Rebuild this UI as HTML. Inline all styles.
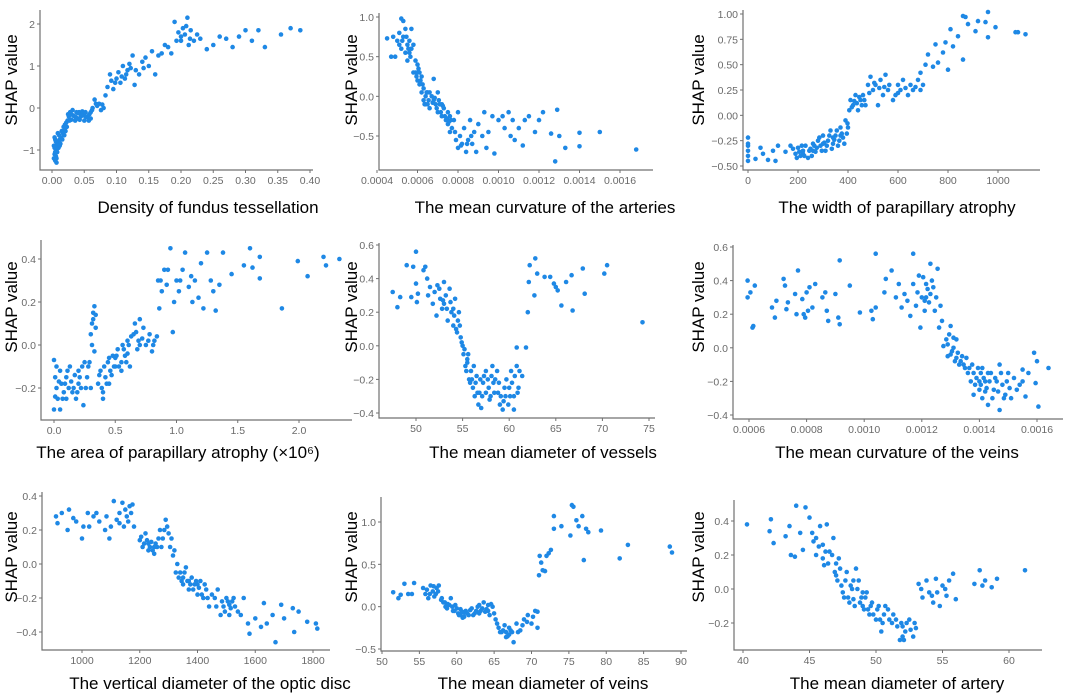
<!DOCTYPE html>
<html><head><meta charset="utf-8"><style>
body{margin:0;background:#fff;}
svg{display:block;}
.tk{font-family:"Liberation Sans",sans-serif;font-size:10.5px;fill:#6a6a6a;}
.tt{font-family:"Liberation Sans",sans-serif;font-size:17px;fill:#000;}
</style></head><body>
<svg id="fig" width="1065" height="694" viewBox="0 0 1065 694" xmlns="http://www.w3.org/2000/svg"></svg>
<script>
// ---- data (x, SHAP value) per panel ----
const p1Points=[[0.003,-0.9],[0.004,-1.1],[0.005,-1.25],[0.005,-0.75],[0.006,-1.0],[0.007,-1.3],[0.008,-0.85],[0.004,-0.7],[0.006,-1.15],[0.009,-0.6],[0.01,-0.8],[0.012,-0.75],[0.014,-0.7],[0.015,-0.55],[0.017,-0.6],[0.018,-0.45],[0.02,-0.5],[0.022,-0.35],[0.024,-0.3],[0.026,-0.2],[0.028,-0.1],[0.03,-0.15],[0.032,-0.05],[0.035,-0.2],[0.038,-0.1],[0.04,-0.25],[0.042,-0.1],[0.045,-0.2],[0.048,-0.15],[0.05,-0.3],[0.052,-0.1],[0.055,-0.2],[0.058,-0.15],[0.06,-0.1],[0.063,0.0],[0.066,0.2],[0.07,0.05],[0.073,0.1],[0.076,-0.05],[0.08,0.0],[0.083,0.3],[0.086,0.5],[0.09,0.8],[0.092,0.65],[0.095,0.45],[0.1,0.7],[0.103,0.85],[0.106,0.6],[0.11,1.0],[0.113,0.7],[0.117,0.9],[0.12,1.05],[0.125,1.25],[0.128,0.55],[0.13,0.9],[0.135,0.8],[0.14,1.1],[0.145,1.2],[0.15,1.0],[0.155,1.35],[0.16,0.8],[0.165,1.25],[0.17,1.3],[0.175,1.5],[0.18,1.45],[0.185,1.3],[0.19,2.05],[0.193,1.6],[0.196,1.8],[0.2,1.7],[0.203,1.9],[0.206,1.75],[0.21,2.15],[0.212,1.5],[0.215,1.85],[0.22,1.6],[0.225,1.75],[0.23,1.65],[0.24,1.4],[0.25,1.5],[0.26,1.7],[0.27,1.65],[0.28,1.45],[0.29,1.7],[0.3,1.85],[0.31,1.6],[0.32,1.85],[0.33,1.45],[0.355,1.75],[0.37,1.9],[0.385,1.85],[0.007,-1.0],[0.01,-0.95],[0.013,-0.85],[0.02,-0.4],[0.025,-0.15],[0.036,-0.3],[0.044,-0.15],[0.05,-0.18],[0.06,-0.25]];
const p1Dense=[[0.003,-1.2],[0.004,-0.95],[0.005,-1.05],[0.006,-0.8],[0.007,-1.2],[0.008,-1.05],[0.009,-0.9],[0.011,-0.65],[0.012,-0.9],[0.016,-0.75],[0.019,-0.65],[0.021,-0.55],[0.023,-0.45],[0.027,-0.3],[0.03,-0.28],[0.033,-0.18],[0.037,-0.22],[0.04,-0.12],[0.043,-0.28],[0.047,-0.08],[0.053,-0.22],[0.057,-0.3],[0.062,-0.05],[0.068,0.1],[0.078,0.08],[0.098,0.6],[0.108,0.75],[0.115,0.8],[0.122,0.95],[0.142,0.95],[0.2,1.6],[0.208,1.95],[0.214,1.65]];
const p2Points=[[4.5,0.73],[4.7,0.5],[4.8,0.75],[4.9,0.5],[5.0,0.7],[5.1,0.8],[5.2,0.98],[5.3,0.95],[5.2,0.6],[5.3,0.75],[5.4,0.55],[5.4,0.85],[5.5,0.65],[5.5,0.45],[5.6,0.7],[5.6,0.55],[5.7,0.85],[5.7,0.6],[5.8,0.65],[5.9,0.45],[5.9,0.3],[6.0,0.4],[6.0,0.2],[6.1,0.3],[6.1,0.15],[6.2,0.25],[6.2,0.05],[6.3,0.1],[6.3,-0.05],[6.4,0.0],[6.5,-0.1],[6.5,0.05],[6.6,-0.15],[6.7,0.0],[6.8,-0.05],[6.8,0.22],[6.9,-0.1],[7.0,-0.2],[7.0,0.05],[7.1,-0.1],[7.2,-0.25],[7.3,-0.15],[7.4,-0.3],[7.5,-0.35],[7.6,-0.25],[7.6,-0.45],[7.7,-0.4],[7.8,-0.3],[7.9,-0.55],[8.0,-0.65],[8.0,-0.2],[8.1,-0.5],[8.2,-0.6],[8.3,-0.4],[8.4,-0.7],[8.5,-0.55],[8.6,-0.3],[8.7,-0.6],[8.8,-0.45],[8.9,-0.7],[9.0,-0.35],[9.2,-0.5],[9.3,-0.2],[9.4,-0.65],[9.5,-0.45],[9.7,-0.25],[9.8,-0.72],[10.0,-0.3],[10.2,-0.25],[10.3,-0.4],[10.5,-0.2],[10.6,-0.5],[10.7,-0.3],[10.8,-0.55],[11.0,-0.4],[11.2,-0.62],[11.3,-0.3],[11.5,-0.25],[11.8,-0.45],[12.0,-0.3],[12.2,-0.2],[12.6,-0.47],[12.8,-0.82],[12.9,-0.17],[13.0,-0.5],[13.3,-0.65],[14.0,-0.46],[14.0,-0.63],[15.0,-0.45],[16.8,-0.67],[5.8,0.3],[6.0,0.3],[6.4,-0.1],[6.6,0.05],[7.2,-0.1],[7.5,-0.2]];
const p2Dense=[[5.1,0.65],[5.25,0.7],[5.45,0.75],[5.55,0.6],[5.65,0.5],[5.95,0.25],[6.05,0.35],[6.15,0.2],[6.25,0.15],[6.35,-0.1],[6.45,0.05],[6.55,-0.05],[6.75,-0.08],[6.85,-0.02],[6.95,-0.15],[7.05,-0.05],[7.15,-0.2],[7.25,-0.12],[7.35,-0.25],[7.45,-0.28],[7.55,-0.32],[7.65,-0.3],[7.85,-0.45],[8.15,-0.62],[8.45,-0.6],[8.65,-0.5]];
const p3Points=[[0,-0.22],[0,-0.3],[0,-0.35],[0,-0.4],[0,-0.45],[0,-0.28],[30,-0.43],[50,-0.32],[60,-0.38],[80,-0.44],[100,-0.35],[110,-0.45],[120,-0.3],[150,-0.36],[170,-0.3],[190,-0.38],[200,-0.32],[210,-0.4],[220,-0.35],[230,-0.3],[240,-0.42],[250,-0.33],[260,-0.28],[270,-0.36],[280,-0.25],[290,-0.3],[300,-0.2],[310,-0.35],[320,-0.25],[330,-0.15],[340,-0.28],[350,-0.2],[360,-0.3],[370,-0.12],[380,-0.22],[390,-0.05],[395,-0.18],[400,-0.12],[405,0.05],[410,0.15],[420,0.1],[430,0.2],[440,0.05],[450,0.15],[460,0.2],[470,0.1],[480,0.3],[490,0.38],[500,0.25],[510,0.3],[520,0.1],[530,0.35],[540,0.2],[550,0.4],[560,0.25],[580,0.15],[590,0.2],[600,0.3],[610,0.25],[620,0.35],[640,0.2],[660,0.25],[680,0.35],[690,0.42],[700,0.3],[710,0.5],[720,0.6],[740,0.48],[750,0.7],[760,0.52],[780,0.62],[790,0.72],[800,0.45],[810,0.85],[820,0.68],[840,0.78],[860,0.98],[860,0.55],[870,0.97],[880,0.9],[910,0.83],[920,0.93],[950,0.92],[960,1.02],[960,0.77],[990,0.87],[1070,0.82],[1080,0.82],[1110,0.8],[220,-0.38],[260,-0.35],[300,-0.28],[340,-0.22],[370,-0.2]];
const p3Dense=[[180,-0.33],[195,-0.42],[205,-0.36],[215,-0.3],[225,-0.4],[245,-0.35],[255,-0.4],[265,-0.3],[275,-0.32],[285,-0.22],[295,-0.35],[305,-0.27],[315,-0.3],[325,-0.2],[335,-0.33],[345,-0.24],[355,-0.15],[365,-0.25],[375,-0.18],[385,-0.28],[398,-0.08],[415,0.08],[425,0.14],[435,0.12],[445,0.18],[455,0.1],[465,0.15],[485,0.22],[505,0.32],[525,0.27],[545,0.28],[565,0.3],[600,0.22],[630,0.27],[650,0.3],[670,0.28],[690,0.25]];
const p4Points=[[0.0,-0.07],[0.0,-0.3],[0.02,-0.2],[0.03,-0.25],[0.05,-0.12],[0.05,-0.3],[0.06,-0.18],[0.08,-0.22],[0.1,-0.15],[0.12,-0.2],[0.13,-0.1],[0.15,-0.22],[0.17,-0.14],[0.18,-0.25],[0.2,-0.12],[0.22,-0.2],[0.24,-0.28],[0.25,-0.08],[0.27,-0.15],[0.28,-0.1],[0.3,-0.2],[0.3,0.05],[0.31,0.1],[0.32,0.15],[0.33,0.18],[0.34,0.08],[0.33,-0.03],[0.36,-0.18],[0.38,-0.12],[0.4,-0.22],[0.4,-0.25],[0.42,-0.15],[0.44,-0.08],[0.46,-0.12],[0.48,-0.05],[0.5,-0.1],[0.52,-0.02],[0.55,-0.08],[0.56,0.0],[0.58,-0.05],[0.6,0.02],[0.62,-0.1],[0.65,0.05],[0.66,0.1],[0.68,-0.02],[0.7,0.12],[0.72,0.03],[0.75,0.0],[0.78,0.05],[0.8,-0.03],[0.82,0.02],[0.85,0.3],[0.86,0.17],[0.88,0.25],[0.9,0.35],[0.92,0.28],[0.95,0.45],[0.97,0.06],[0.98,0.2],[1.0,0.3],[1.02,0.25],[1.05,0.35],[1.07,0.43],[1.1,0.27],[1.13,0.2],[1.15,0.3],[1.18,0.22],[1.2,0.38],[1.22,0.17],[1.25,0.43],[1.28,0.3],[1.3,0.25],[1.32,0.16],[1.35,0.28],[1.38,0.43],[1.45,0.33],[1.55,0.37],[1.6,0.45],[1.62,0.36],[1.68,0.41],[1.68,0.31],[1.86,0.17],[1.99,0.39],[2.07,0.32],[2.2,0.41],[2.22,0.37],[2.33,0.4],[0.02,-0.1],[0.1,-0.25],[0.2,-0.18],[0.45,-0.18],[0.5,-0.06],[0.55,-0.12],[0.6,-0.04],[0.7,0.0]];
const p4Dense=[[0.01,-0.15],[0.01,-0.24],[0.04,-0.17],[0.07,-0.25],[0.09,-0.18],[0.11,-0.12],[0.14,-0.17],[0.16,-0.2],[0.19,-0.22],[0.21,-0.15],[0.23,-0.1],[0.26,-0.2],[0.29,-0.08],[0.31,0.0],[0.32,0.12],[0.34,0.14],[0.37,-0.14],[0.39,-0.2],[0.41,-0.1],[0.43,-0.18],[0.45,-0.06],[0.47,-0.14],[0.49,-0.1],[0.51,-0.05],[0.53,-0.1],[0.57,-0.02],[0.59,-0.08],[0.61,0.0],[0.63,0.04],[0.67,0.06],[0.69,0.02],[0.73,0.08],[0.77,0.02],[0.81,0.0],[0.84,0.04],[0.87,0.3],[0.93,0.35],[1.03,0.3],[1.12,0.32]];
const p5Points=[[47.5,0.32],[48,0.23],[48.3,0.29],[49,0.48],[49.5,0.29],[49.7,0.47],[50,0.56],[50,0.37],[50.2,0.31],[50.1,0.26],[50.8,0.45],[51,0.47],[51.2,0.4],[51.3,0.3],[51.5,0.35],[51.8,0.25],[52,0.32],[52.2,0.18],[52.3,0.36],[52.6,0.28],[52.8,0.22],[53,0.38],[53.2,0.3],[53.4,0.15],[53.6,0.34],[53.8,0.2],[54,0.12],[54.2,0.28],[54.4,0.08],[54.6,0.2],[54.8,0.05],[55,0.0],[55.1,-0.05],[55.3,-0.12],[55.5,-0.08],[55.7,-0.2],[55.9,-0.15],[56.1,-0.25],[56.3,-0.3],[56.5,-0.18],[56.8,-0.28],[57,-0.37],[57.2,-0.22],[57.5,-0.15],[57.8,-0.25],[58,-0.3],[58.2,-0.12],[58.5,-0.2],[58.8,-0.28],[59,-0.35],[59.3,-0.38],[59.6,-0.3],[60,-0.25],[60.2,-0.15],[60.5,-0.3],[60.8,-0.12],[61,-0.25],[61.4,-0.18],[61.8,-0.01],[62,0.2],[62.1,0.38],[62.2,0.48],[62.7,0.3],[62.8,0.52],[63,0.43],[63.8,0.41],[64.4,0.41],[64.8,0.37],[65,0.35],[65.2,0.33],[65.6,0.24],[66.1,0.38],[66.8,0.21],[66.7,0.42],[67.9,0.46],[68.1,0.31],[70.2,0.43],[70.5,0.48],[74.3,0.14],[60.8,-0.01],[55.5,-0.1],[56,-0.2],[56.7,-0.35],[57.5,-0.28],[58.3,-0.22],[59.5,-0.25],[60.5,-0.38],[53,0.25],[54,0.22],[54.5,0.15]];
const p5Dense=[[52.5,0.34],[52.9,0.27],[53.3,0.22],[53.7,0.26],[54.1,0.18],[54.3,0.1],[54.7,0.12],[54.9,0.02],[55.2,-0.02],[55.4,-0.15],[55.6,-0.05],[55.8,-0.22],[56.2,-0.12],[56.4,-0.22],[56.6,-0.28],[56.9,-0.2],[57.1,-0.3],[57.3,-0.18],[57.7,-0.2],[57.9,-0.32],[58.1,-0.18],[58.4,-0.28],[58.7,-0.15],[58.9,-0.22],[59.1,-0.3],[59.4,-0.33],[59.7,-0.2],[59.9,-0.35],[60.1,-0.3],[60.3,-0.22],[60.6,-0.18],[60.9,-0.28],[61.1,-0.15]];
const p6Points=[[5.95,0.4],[5.95,0.3],[6.05,0.33],[6.12,0.12],[6.15,0.13],[6.2,0.37],[6.8,0.24],[6.9,0.18],[6.95,0.28],[7.2,0.41],[7.25,0.37],[7.3,0.23],[7.35,0.27],[7.6,0.32],[7.65,0.2],[7.7,0.46],[7.85,0.29],[7.9,0.2],[7.95,0.18],[8.0,0.33],[8.05,0.22],[8.1,0.36],[8.2,0.24],[8.3,0.38],[8.55,0.3],[8.65,0.33],[8.7,0.22],[8.75,0.16],[9.0,0.32],[9.1,0.18],[9.15,0.14],[9.15,0.52],[9.5,0.37],[9.85,0.21],[10.25,0.22],[10.3,0.17],[10.4,0.24],[10.4,0.56],[10.7,0.33],[10.75,0.41],[10.95,0.46],[11.1,0.3],[11.2,0.38],[11.3,0.24],[11.4,0.32],[11.5,0.28],[11.6,0.19],[11.7,0.38],[11.7,0.56],[11.8,0.25],[11.9,0.43],[11.95,0.12],[12.0,0.3],[12.05,0.42],[12.1,0.22],[12.2,0.35],[12.25,0.27],[12.3,0.5],[12.35,0.4],[12.45,0.22],[12.5,0.3],[12.55,0.47],[12.6,0.12],[12.65,0.25],[12.7,0.16],[12.75,0.01],[12.85,0.05],[12.9,-0.05],[12.95,0.08],[13.0,0.13],[13.05,-0.02],[13.1,0.0],[13.15,-0.08],[13.2,0.05],[13.3,-0.1],[13.4,-0.05],[13.5,-0.12],[13.6,-0.15],[13.7,-0.2],[13.75,-0.1],[13.8,-0.28],[13.9,-0.18],[14.0,-0.25],[14.05,-0.15],[14.1,-0.3],[14.2,-0.2],[14.3,-0.34],[14.4,-0.15],[14.5,-0.25],[14.6,-0.2],[14.7,-0.37],[14.7,-0.1],[14.8,-0.22],[14.9,-0.28],[15.0,-0.15],[15.1,-0.3],[15.3,-0.25],[15.5,-0.2],[15.5,-0.13],[15.6,-0.29],[15.7,-0.15],[15.9,-0.03],[15.95,-0.21],[16.0,-0.08],[16.05,-0.35],[16.4,-0.12],[12.1,0.28],[12.3,0.32],[13.2,-0.06],[14.0,-0.2],[14.2,-0.26]];
const p6Dense=[[11.85,0.33],[12.15,0.3],[12.4,0.36],[12.15,0.38],[12.9,0.02],[13.0,-0.04],[13.1,0.06],[13.25,-0.03],[13.35,-0.08],[13.45,-0.1],[13.55,-0.06],[13.65,-0.12],[13.8,-0.15],[13.85,-0.22],[13.95,-0.12],[14.05,-0.22],[14.15,-0.18],[14.25,-0.24],[14.35,-0.2],[14.45,-0.3],[14.55,-0.18],[14.65,-0.26],[14.75,-0.15],[14.85,-0.3],[14.95,-0.2],[15.05,-0.24],[15.2,-0.18],[15.4,-0.22],[14.1,-0.12],[14.3,-0.15]];
const p7Points=[[910,0.28],[915,0.24],[930,0.3],[950,0.2],[955,0.32],[970,0.27],[980,0.25],[1000,0.15],[1005,0.22],[1020,0.3],[1025,0.22],[1040,0.28],[1050,0.3],[1060,0.25],[1080,0.2],[1085,0.28],[1095,0.15],[1100,0.22],[1110,0.37],[1120,0.26],[1130,0.3],[1140,0.36],[1145,0.22],[1150,0.32],[1160,0.25],[1170,0.3],[1175,0.35],[1180,0.22],[1200,0.14],[1210,0.1],[1220,0.18],[1230,0.08],[1240,0.13],[1250,0.06],[1260,0.1],[1270,0.2],[1280,0.15],[1290,0.26],[1300,0.18],[1305,0.1],[1320,0.08],[1330,0.0],[1335,-0.08],[1340,-0.05],[1350,-0.12],[1360,-0.02],[1370,-0.15],[1380,-0.08],[1390,-0.12],[1400,-0.18],[1410,-0.1],[1420,-0.2],[1430,-0.15],[1440,-0.25],[1460,-0.2],[1470,-0.15],[1480,-0.3],[1490,-0.25],[1500,-0.2],[1510,-0.3],[1520,-0.22],[1530,-0.25],[1550,-0.3],[1560,-0.2],[1575,-0.35],[1580,-0.41],[1600,-0.32],[1620,-0.37],[1630,-0.23],[1640,-0.35],[1660,-0.3],[1670,-0.46],[1690,-0.24],[1700,-0.32],[1730,-0.26],[1735,-0.4],[1750,-0.28],[1780,-0.34],[1810,-0.35],[1815,-0.38],[1230,0.12],[1250,0.1],[1350,-0.08],[1370,-0.1],[1400,-0.12],[1510,-0.24]];
const p7Dense=[[1205,0.16],[1215,0.12],[1225,0.14],[1235,0.1],[1245,0.08],[1255,0.12],[1265,0.15],[1275,0.1],[1285,0.2],[1295,0.22],[1310,0.15],[1315,0.05],[1325,-0.05],[1345,-0.1],[1355,-0.05],[1365,-0.1],[1375,-0.12],[1385,-0.15],[1395,-0.1],[1405,-0.14],[1415,-0.18],[1425,-0.12],[1435,-0.2],[1450,-0.18],[1465,-0.25],[1485,-0.22],[1495,-0.28],[1505,-0.22],[1515,-0.26],[1525,-0.2],[1540,-0.28],[1130,0.24],[1155,0.28],[1165,0.34]];
const p8Points=[[51.5,0.17],[52.2,0.1],[52.5,0.14],[53,0.27],[53.5,0.15],[54.3,0.28],[54,0.15],[55.5,0.22],[55.8,0.15],[56.2,0.1],[56.5,0.25],[56.8,0.18],[57,0.12],[57.3,0.22],[57.6,0.25],[57.9,0.08],[58.2,0.05],[58.5,0.0],[58.8,0.03],[59.2,0.1],[59.5,-0.05],[59.8,0.02],[60.2,-0.08],[60.5,-0.03],[60.8,-0.13],[61.2,-0.05],[61.6,-0.1],[62,-0.02],[62.4,-0.08],[62.8,0.0],[63.2,-0.05],[63.6,0.05],[64,-0.03],[64.4,-0.1],[64.8,0.0],[65.2,-0.15],[65.6,-0.25],[66,-0.3],[66.4,-0.22],[66.8,-0.35],[67.2,-0.28],[67.6,-0.42],[68,-0.2],[68.5,-0.28],[69,-0.15],[69.5,-0.1],[70,-0.2],[70.5,-0.05],[70.8,-0.25],[70.8,-0.06],[71,0.37],[71.1,0.6],[71.3,0.52],[71.5,0.43],[71.8,0.42],[72,0.6],[72.3,0.63],[72.6,0.67],[73,0.92],[73,1.07],[74,0.95],[75.2,0.84],[75.4,1.2],[75.6,1.18],[76,1.02],[76.3,0.95],[76.8,1.07],[77,0.55],[77.3,0.92],[77.6,0.88],[79.3,0.9],[81.8,0.57],[82.9,0.73],[88.5,0.71],[88.8,0.64],[60.5,-0.1],[61,-0.07],[63,-0.08],[64.2,0.02],[66.6,-0.3],[67,-0.33]];
const p8Dense=[[56,0.2],[56.4,0.15],[56.9,0.24],[57.2,0.15],[57.5,0.18],[58,0.1],[58.4,0.05],[58.7,-0.02],[59,0.02],[59.4,0.0],[59.7,-0.05],[60,-0.02],[60.3,-0.1],[60.7,-0.06],[61,-0.12],[61.4,-0.08],[61.8,-0.04],[62.2,-0.1],[62.6,-0.05],[63,0.02],[63.4,-0.02],[63.8,-0.06],[64.2,-0.05],[64.6,0.03],[65,-0.08],[65.4,-0.2],[65.8,-0.3],[66.2,-0.28],[66.6,-0.36],[67,-0.25],[67.4,-0.3],[68.2,-0.3],[68.8,-0.22],[69.4,-0.18],[70.2,-0.12]];
const p9Points=[[40.3,0.38],[42,0.34],[42.1,0.41],[42.3,0.27],[43.2,0.31],[43.5,0.37],[43.6,0.2],[43.9,0.19],[44,0.49],[44.3,0.33],[44.5,0.23],[44.7,0.48],[45,0.42],[45.2,0.33],[45.3,0.28],[45.5,0.2],[45.8,0.37],[46,0.26],[46.1,0.14],[46.3,0.38],[46.5,0.22],[46.8,0.3],[47,0.08],[47.2,0.18],[47.4,0.02],[47.6,-0.05],[47.8,0.1],[48,-0.08],[48.2,0.0],[48.4,-0.1],[48.5,0.12],[48.7,0.05],[48.9,-0.05],[49.1,-0.12],[49.3,-0.02],[49.5,-0.15],[49.7,-0.08],[50,-0.18],[50.2,-0.1],[50.4,-0.25],[50.6,-0.15],[50.9,-0.12],[51.2,-0.2],[51.5,-0.18],[51.8,-0.3],[52,-0.22],[52.2,-0.25],[52.5,-0.18],[52.8,-0.28],[53,-0.23],[53.2,0.03],[53.5,-0.05],[53.8,0.05],[54,-0.02],[54.3,-0.08],[54.5,0.06],[54.8,-0.1],[55,0.02],[55.3,-0.04],[55.5,0.05],[55.8,0.09],[56,-0.06],[57.4,0.03],[57.8,0.11],[58,0.02],[58.2,0.05],[58.7,0.01],[59.1,0.06],[61.2,0.11],[45.5,0.3],[46,0.18],[47,0.15],[48.3,0.05],[49,-0.02],[50.5,-0.2],[52,-0.28]];
const p9Dense=[[45.7,0.25],[46.2,0.22],[46.4,0.15],[46.7,0.2],[46.9,0.1],[47.1,0.05],[47.3,0.12],[47.5,-0.02],[47.7,0.05],[47.9,-0.05],[48.1,0.02],[48.3,-0.06],[48.6,0.0],[48.8,-0.08],[49,-0.1],[49.2,-0.05],[49.4,-0.12],[49.6,-0.1],[49.8,-0.15],[50.1,-0.12],[50.3,-0.18],[50.7,-0.1],[51,-0.18],[51.3,-0.15],[51.6,-0.22],[51.9,-0.2],[52.1,-0.3],[52.3,-0.2],[52.6,-0.24],[52.9,-0.2],[53.4,0.0],[54.2,-0.04],[54.6,-0.02],[55.2,0.0]];
// tick values and labels
const p1XTicks=[0,0.05,0.1,0.15,0.2,0.25,0.3,0.35,0.4];
const p1XLabels=["0.00","0.05","0.10","0.15","0.20","0.25","0.30","0.35","0.40"];
const p1YTicks=[-1,0,1,2]; const p1YLabels=["−1","0","1","2"];
const p2XTicks=[4,6,8,10,12,14,16];
const p2XLabels=["0.0004","0.0006","0.0008","0.0010","0.0012","0.0014","0.0016"];
const p2YTicks=[-0.5,0,0.5,1]; const p2YLabels=["−0.5","0.0","0.5","1.0"];
const p3XTicks=[0,200,400,600,800,1000]; const p3XLabels=["0","200","400","600","800","1000"];
const p3YTicks=[-0.5,-0.25,0,0.25,0.5,0.75,1]; const p3YLabels=["−0.50","−0.25","0.00","0.25","0.50","0.75","1.00"];
const p4XTicks=[0,0.5,1,1.5,2]; const p4XLabels=["0.0","0.5","1.0","1.5","2.0"];
const p4YTicks=[-0.2,0,0.2,0.4]; const p4YLabels=["−0.2","0.0","0.2","0.4"];
const p5XTicks=[50,55,60,65,70,75]; const p5XLabels=["50","55","60","65","70","75"];
const p5YTicks=[-0.4,-0.2,0,0.2,0.4,0.6]; const p5YLabels=["−0.4","−0.2","0.0","0.2","0.4","0.6"];
const p6XTicks=[6,8,10,12,14,16]; const p6XLabels=["0.0006","0.0008","0.0010","0.0012","0.0014","0.0016"];
const p6YTicks=[-0.4,-0.2,0,0.2,0.4,0.6]; const p6YLabels=["−0.4","−0.2","0.0","0.2","0.4","0.6"];
const p7XTicks=[1000,1200,1400,1600,1800]; const p7XLabels=["1000","1200","1400","1600","1800"];
const p7YTicks=[-0.4,-0.2,0,0.2,0.4]; const p7YLabels=["−0.4","−0.2","0.0","0.2","0.4"];
const p8XTicks=[50,55,60,65,70,75,80,85,90]; const p8XLabels=["50","55","60","65","70","75","80","85","90"];
const p8YTicks=[-0.5,0,0.5,1]; const p8YLabels=["−0.5","0.0","0.5","1.0"];
const p9XTicks=[40,45,50,55,60]; const p9XLabels=["40","45","50","55","60"];
const p9YTicks=[-0.2,0,0.2,0.4]; const p9YLabels=["−0.2","0.0","0.2","0.4"];

const NS="http://www.w3.org/2000/svg";
const svg=document.getElementById('fig');
function mk(tag,attrs,parent){const e=document.createElementNS(NS,tag);for(const k in attrs)e.setAttribute(k,attrs[k]);(parent||svg).appendChild(e);return e;}
function lin(v1,p1,v2,p2){return v=>p1+(v-v1)*(p2-p1)/(v2-v1);}

const panels=[
 {id:'density',pts:p1Points.concat(p1Dense),xt:p1XTicks,xl:p1XLabels,yt:p1YTicks,yl:p1YLabels,ax:40,top:10,bot:170,right:313,xs:[0,52,0.4,310],ys:[2,24,-1,150],title:"Density of fundus tessellation",tx:208,ty:213,lx:11,ly:80},
 {id:'artery-curvature',pts:p2Points.concat(p2Dense),xt:p2XTicks,xl:p2XLabels,yt:p2YTicks,yl:p2YLabels,ax:379,top:13,bot:170,right:653,xs:[4,377,16,620],ys:[1,17,-0.5,136],title:"The mean curvature of the arteries",tx:545,ty:213,lx:351,ly:80},
 {id:'ppa-width',pts:p3Points.concat(p3Dense),xt:p3XTicks,xl:p3XLabels,yt:p3YTicks,yl:p3YLabels,ax:743,top:10,bot:170,right:1040,xs:[0,748,1000,998],ys:[1,14,-0.5,166],title:"The width of parapillary atrophy",tx:897,ty:213,lx:698,ly:80},
 {id:'ppa-area',pts:p4Points.concat(p4Dense),xt:p4XTicks,xl:p4XLabels,yt:p4YTicks,yl:p4YLabels,ax:41,top:240,bot:420,right:352,xs:[0,54,2,299],ys:[0.4,259,-0.2,388],title:"The area of parapillary atrophy (×10⁶)",tx:178,ty:458,lx:11,ly:307},
 {id:'vessel-diameter',pts:p5Points.concat(p5Dense),xt:p5XTicks,xl:p5XLabels,yt:p5YTicks,yl:p5YLabels,ax:379,top:243,bot:418,right:655,xs:[50,416,75,649],ys:[0.6,245,-0.4,413],title:"The mean diameter of vessels",tx:543,ty:458,lx:351,ly:307},
 {id:'vein-curvature',pts:p6Points.concat(p6Dense),xt:p6XTicks,xl:p6XLabels,yt:p6YTicks,yl:p6YLabels,ax:733,top:245,bot:419,right:1063,xs:[6,749,16,1037],ys:[0.6,247,-0.4,415],title:"The mean curvature of the veins",tx:897,ty:458,lx:698,ly:307},
 {id:'disc-diameter',pts:p7Points.concat(p7Dense),xt:p7XTicks,xl:p7XLabels,yt:p7YTicks,yl:p7YLabels,ax:42,top:492,bot:650,right:330,xs:[1000,82,1800,313],ys:[0.4,496,-0.4,632],title:"The vertical diameter of the optic disc",tx:210,ty:689,lx:11,ly:557},
 {id:'vein-diameter',pts:p8Points.concat(p8Dense),xt:p8XTicks,xl:p8XLabels,yt:p8YTicks,yl:p8YLabels,ax:381,top:497,bot:651,right:687,xs:[50,382,90,681],ys:[1,522,-0.5,649],title:"The mean diameter of veins",tx:543,ty:689,lx:351,ly:557},
 {id:'artery-diameter',pts:p9Points.concat(p9Dense),xt:p9XTicks,xl:p9XLabels,yt:p9YTicks,yl:p9YLabels,ax:734,top:500,bot:650,right:1042,xs:[40,743,60,1009],ys:[0.4,521,-0.2,623],title:"The mean diameter of artery",tx:897,ty:689,lx:698,ly:557}
];

panels.forEach(P=>{
  const g=mk('g',{});
  
  
  const X=lin(...P.xs), Y=lin(...P.ys);
  const axes=mk('path',{d:`M${P.ax} ${P.top}V${P.bot}H${P.right}`,fill:'none',stroke:'#707070','stroke-width':1.2},g);
  
  
  P.xt.forEach((v,i)=>{
    const x=X(v);
    mk('line',{x1:x,x2:x,y1:P.bot,y2:P.bot+3,stroke:'#707070'},g);
    const t=mk('text',{x:x,y:P.bot+14,'text-anchor':'middle',class:'tk'},g);
    t.textContent=P.xl[i];
    
    
  });
  P.yt.forEach((v,i)=>{
    const y=Y(v);
    mk('line',{x1:P.ax-3,x2:P.ax,y1:y,y2:y,stroke:'#707070'},g);
    const t=mk('text',{x:P.ax-5,y:y+4,'text-anchor':'end',class:'tk'},g);
    t.textContent=P.yl[i];
    
    
  });
  P.pts.forEach(p=>{
    const c=mk('circle',{cx:X(p[0]).toFixed(1),cy:Y(p[1]).toFixed(1),r:2.3,fill:'#1e88e5'},g);
    
    
  });
  const tt=mk('text',{x:P.tx,y:P.ty,'text-anchor':'middle',class:'tt'},g);
  tt.textContent=P.title;
  
  
  const yl=mk('text',{x:0,y:0,'text-anchor':'middle',class:'tt',transform:`translate(${P.lx+6},${P.ly}) rotate(-90)`},g);
  yl.textContent='SHAP value';
  
  
});
</script>
</body></html>
